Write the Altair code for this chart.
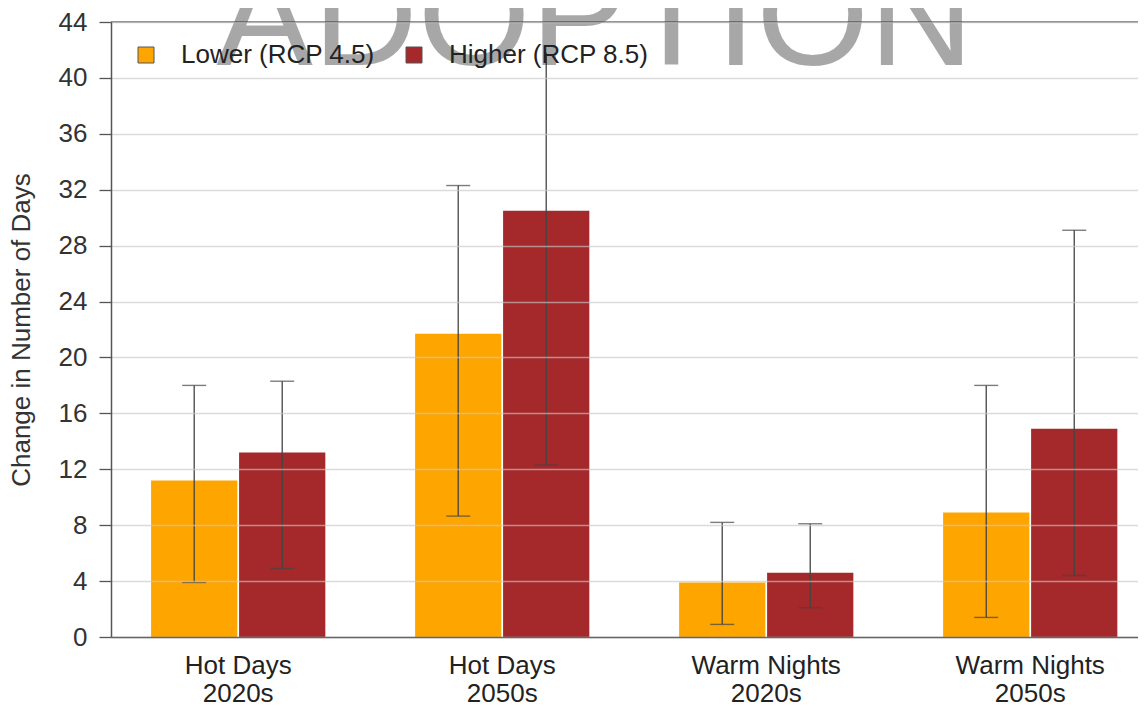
import altair as alt
import pandas as pd

groups = ["Hot Days|2020s", "Hot Days|2050s", "Warm Nights|2020s", "Warm Nights|2050s"]
series_names = ["Lower (RCP 4.5)", "Higher (RCP 8.5)"]
series_colors = ["#FFA500", "#A5282B"]

lower_val = [11.2, 21.7, 3.9, 8.9]
lower_lo = [3.9, 8.65, 0.9, 1.4]
lower_hi = [18.0, 32.3, 8.2, 18.0]

higher_val = [13.2, 30.5, 4.6, 14.9]
higher_lo = [4.9, 12.3, 2.1, 4.4]
higher_hi = [18.3, 41.8, 8.1, 29.1]
# the upper cap of the 2050s hot-days RCP 8.5 range is hidden behind the legend
higher_cap_shown = [True, False, True, True]

y_ticks = list(range(0, 45, 4))
top_value = [44]
watermark = ["ADOPTION"]

rows = []
for i, g in enumerate(groups):
    rows.append({"group": g, "series": series_names[0], "value": lower_val[i],
                 "lo": lower_lo[i], "hi": lower_hi[i], "cap": True})
    rows.append({"group": g, "series": series_names[1], "value": higher_val[i],
                 "lo": higher_lo[i], "hi": higher_hi[i], "cap": higher_cap_shown[i]})
df = pd.DataFrame(rows)

FONT = "Liberation Sans"
Y_TITLE = "Change in Number of Days"

y_axis = alt.Axis(values=y_ticks, title=Y_TITLE, tickSize=12,
                  labelPadding=12, domainColor="#555", domainWidth=1.5,
                  tickColor="#555", tickWidth=1.3, labelFontSize=26, labelColor="#333",
                  titleFontSize=26, titleFontWeight="normal", titleColor="#333",
                  titlePadding=24, grid=True, gridColor="#c8c8c8", gridOpacity=0.65,
                  gridWidth=1.5, zindex=1, labelFont=FONT, titleFont=FONT)
y_scale = alt.Scale(domain=[0, 44], nice=False)

x_enc = alt.X(
    "group:N", sort=groups,
    scale=alt.Scale(paddingInner=0.34, paddingOuter=0.115, align=0.66),
    axis=alt.Axis(title=None, labelExpr="split(datum.label, '|')", labelFontSize=26,
                  labelLineHeight=28, labelPadding=15, ticks=False, labelAngle=0,
                  labelColor="#222", domainColor="#666", domainWidth=1.5, grid=False,
                  zindex=1, labelFont=FONT),
)
xo_enc = alt.XOffset("series:N", sort=series_names, scale=alt.Scale(paddingInner=0.02))

base = alt.Chart(df).encode(x=x_enc, xOffset=xo_enc)

bars = base.mark_bar().encode(
    y=alt.Y("value:Q", scale=y_scale, axis=y_axis, title=Y_TITLE),
    color=alt.Color("series:N", sort=series_names,
                    scale=alt.Scale(domain=series_names, range=series_colors),
                    legend=alt.Legend(title=None, orient="none", legendX=14, legendY=12,
                                      direction="horizontal", padding=8,
                                      symbolType="square", symbolSize=256,
                                      symbolStrokeColor="#555", symbolStrokeWidth=1,
                                      labelFontSize=26, labelColor="#222", labelFont=FONT,
                                      labelLimit=400, columnPadding=26, labelOffset=22)),
)

rules = base.mark_rule(color="#444", strokeWidth=1.3).encode(
    y=alt.Y("lo:Q", scale=y_scale, axis=y_axis, title=Y_TITLE), y2="hi:Q"
)
caps_hi = base.transform_filter("datum.cap").mark_tick(size=24, thickness=1.4, color="#444").encode(
    y=alt.Y("hi:Q", scale=y_scale, axis=y_axis, title=Y_TITLE)
)
caps_lo = base.mark_tick(size=24, thickness=1.4, color="#444").encode(
    y=alt.Y("lo:Q", scale=y_scale, axis=y_axis, title=Y_TITLE)
)
top_line = alt.Chart(pd.DataFrame({"top": top_value})).mark_rule(
    color="#8c8c8c", strokeWidth=2
).encode(y=alt.Y("top:Q", scale=y_scale, axis=y_axis, title=Y_TITLE))

wm = alt.Chart(pd.DataFrame({"t": watermark})).mark_text(
    fontSize=145, font=FONT, fontWeight="normal", color="black", opacity=0.34,
    align="center", baseline="alphabetic"
).encode(x=alt.value(484), y=alt.value(43), text="t:N")

chart = alt.layer(bars, rules, caps_hi, caps_lo, top_line, wm).properties(
    width=1027, height=615,
    autosize="none",
    padding={"left": 103, "top": 14, "right": 0, "bottom": 70},
).configure_view(stroke=None).configure(font=FONT)

chart.save("out.html", embed_options={"renderer": "svg", "actions": False})
